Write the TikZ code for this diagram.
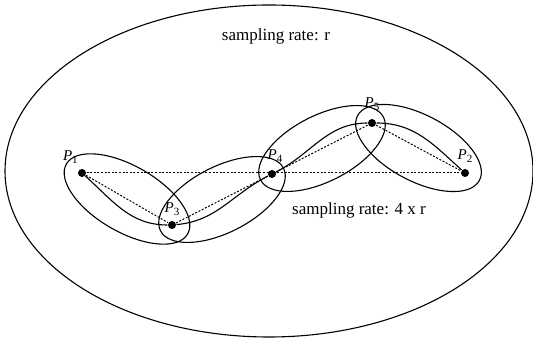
\documentclass[tikz,border=0pt]{standalone}
\usepackage{fontspec}
\setmainfont{Liberation Serif}
\usetikzlibrary{positioning,calc}
\newcommand{\pname}[1]{\textit{P}\raisebox{-0.45ex}{\fontsize{11}{12}\selectfont #1}}
\tikzset{
  dot/.style={circle,fill,inner sep=0pt,minimum size=8pt},
  plabel/.style={inner sep=0.5pt,font=\fontsize{15}{17}\selectfont},
  ratetext/.style={font=\fontsize{17}{20}\selectfont},
  dotline/.style={dash pattern=on 2pt off 1.6pt,line width=1pt},
}
\begin{document}
\begin{tikzpicture}[x=1pt,y=1pt,line width=1.1pt]
  \useasboundingbox (0,0) rectangle (533,342);
  % outer region
  \draw (269,171) ellipse [x radius=264pt, y radius=166pt];
  \node[ratetext] (rateout) at (276,306) {sampling rate: r};
  % sample points
  \node[dot] (p1) at (82,169) {};
  \node[dot] (p3) at (172,117) {};
  \node[dot] (p4) at (272,168) {};
  \node[dot] (p5) at (372,219) {};
  \node[dot] (p2) at (465,169) {};
  \node[plabel,above left=5pt and 0pt of p1] (l1) {\pname{1}};
  \node[plabel,above=4pt of p3] (l3) {\pname{3}};
  \node[plabel,above=6pt of p4,xshift=3pt] (l4) {\pname{4}};
  \node[plabel,above=7pt of p5] (l5) {\pname{5}};
  \node[plabel,above=5pt of p2] (l2) {\pname{2}};
  % finer sampling regions
  \coordinate (c13) at ($(p1)!0.5!(p3)$);
  \coordinate (c34) at ($(p3)!0.5!(p4)$);
  \coordinate (c45) at ($(p4)!0.5!(p5)$);
  \coordinate (c52) at ($(p5)!0.5!(p2)$);
  \draw[rotate around={-30:(c13)}] (c13) ellipse [x radius=70pt, y radius=33pt];
  \draw[rotate around={27:(c34)}] (c34) ellipse [x radius=69pt, y radius=33pt];
  \draw[rotate around={27:(c45)}] (c45) ellipse [x radius=69pt, y radius=33pt];
  \draw[rotate around={-28:(c52)}] (c52) ellipse [x radius=69pt, y radius=33pt];
  \node[ratetext] (ratein) at (359,132) {sampling rate: 4 x r};
  % straight links
  \draw[dotline] (p1) -- (p2);
  \draw[dotline] (p1) -- (p3) -- (p4) -- (p5) -- (p2);
  % path
  \draw (p1) to[out=-42,in=180] (p3) to[out=5,in=207] (p4)
    to[out=27,in=180] (p5) to[out=0,in=138] (p2);
\end{tikzpicture}
\end{document}
